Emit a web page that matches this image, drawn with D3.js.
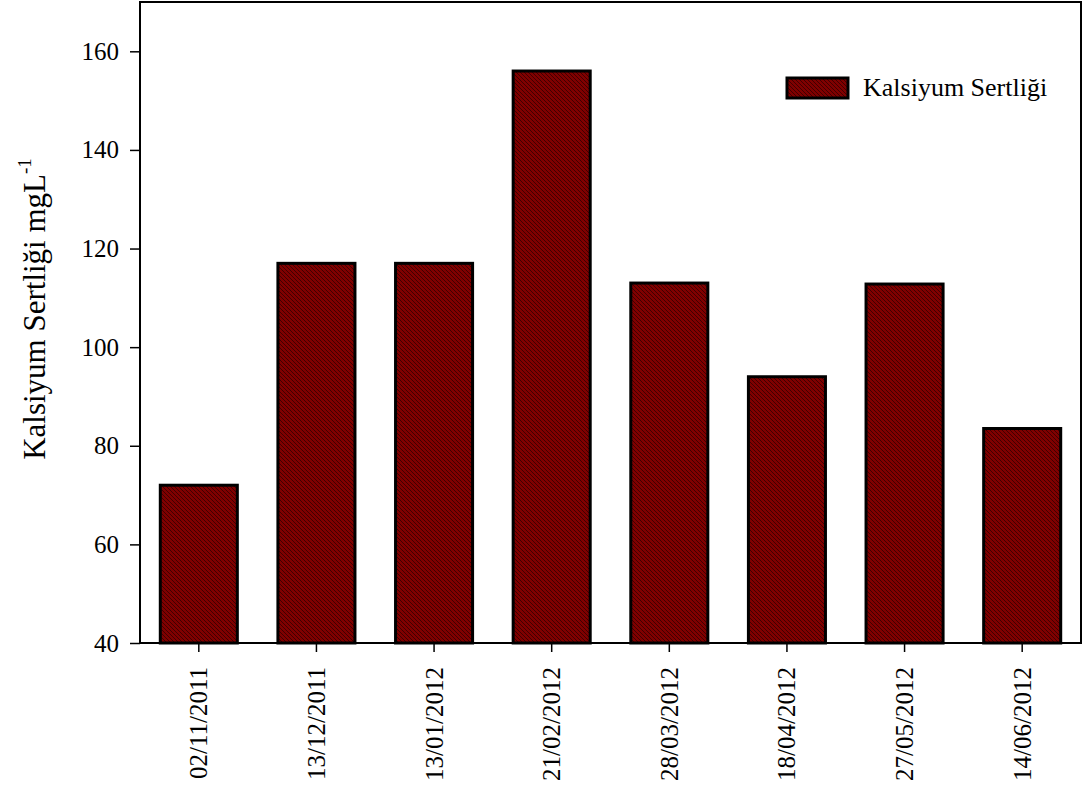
<!DOCTYPE html>
<html>
<head>
<meta charset="utf-8">
<script src="https://cdn.jsdelivr.net/npm/d3@7"></script>
<style>
  html, body { margin: 0; padding: 0; background: #fff; }
  svg { display: block; }
  text { font-family: "Liberation Serif", "Times New Roman", serif; fill: #000; }
</style>
</head>
<body>
<script>
const categories = ["02/11/2011", "13/12/2011", "13/01/2012", "21/02/2012", "28/03/2012", "18/04/2012", "27/05/2012", "14/06/2012"];
const values = [72, 117, 117, 156, 113, 94, 112.8, 83.5];
const yTicks = [40, 60, 80, 100, 120, 140, 160];
const seriesName = "Kalsiyum Sertliği";

const W = 1086, H = 789;
const m = { left: 140, right: 5, top: 2, bottom: 146 };

const svg = d3.select("body").append("svg").attr("width", W).attr("height", H);

const defs = svg.append("defs");
const pat = defs.append("pattern")
  .attr("id", "hatch").attr("patternUnits", "userSpaceOnUse")
  .attr("width", 4).attr("height", 4);
pat.append("rect").attr("width", 4).attr("height", 4).attr("fill", "#800000");
pat.append("path")
  .attr("d", "M-1,-1 L5,5 M-1,3 L1,5 M3,-1 L5,1")
  .attr("stroke", "#1a0000").attr("stroke-width", 0.9).attr("stroke-opacity", 0.7);

const x = d3.scaleBand().domain(categories)
  .range([m.left, W - m.right]).paddingInner(0.345).paddingOuter(0.1725);
const y = d3.scaleLinear().domain([40, 170]).range([H - m.bottom, m.top]);

// bars
svg.append("g").selectAll("rect").data(values).join("rect")
  .attr("x", (d, i) => x(categories[i]))
  .attr("y", d => y(d))
  .attr("width", x.bandwidth())
  .attr("height", d => y(40) - y(d))
  .attr("fill", "url(#hatch)")
  .attr("stroke", "#000").attr("stroke-width", 3);

// frame
svg.append("rect")
  .attr("x", m.left).attr("y", m.top)
  .attr("width", W - m.right - m.left).attr("height", H - m.bottom - m.top)
  .attr("fill", "none").attr("stroke", "#000").attr("stroke-width", 2);

// y axis
const yAxis = svg.append("g").attr("transform", `translate(${m.left},0)`)
  .call(d3.axisLeft(y).tickValues(yTicks).tickSize(10).tickPadding(11).tickFormat(d3.format("d")));
yAxis.select(".domain").remove();
yAxis.selectAll(".tick line").attr("stroke", "#000").attr("stroke-width", 1.5);
yAxis.selectAll(".tick text").attr("font-size", 25)
  .style("font-family", '"Liberation Serif", serif').attr("fill", "#000");

// x axis
const xAxis = svg.append("g").attr("transform", `translate(0,${H - m.bottom})`)
  .call(d3.axisBottom(x).tickSize(9).tickPadding(0));
xAxis.select(".domain").remove();
xAxis.selectAll(".tick line").attr("stroke", "#000").attr("stroke-width", 1.5);
xAxis.selectAll(".tick text")
  .attr("font-size", 25)
  .style("font-family", '"Liberation Serif", serif').attr("fill", "#000")
  .attr("text-anchor", "end")
  .attr("dominant-baseline", "central")
  .attr("dy", null)
  .attr("transform", "translate(0,24) rotate(-90)")
  .attr("x", 0).attr("y", 0);

// y label
const yl = svg.append("text")
  .attr("transform", "translate(45,309) rotate(-90)")
  .attr("text-anchor", "middle")
  .attr("font-size", 31);
yl.append("tspan").text("Kalsiyum Sertliği mgL");
yl.append("tspan").attr("font-size", 19).attr("dy", -14).text("-1");

// legend
const lg = svg.append("g");
lg.append("rect").attr("x", 787).attr("y", 78).attr("width", 61).attr("height", 20)
  .attr("fill", "url(#hatch)").attr("stroke", "#000").attr("stroke-width", 3);
lg.append("text").attr("x", 863).attr("y", 96).attr("font-size", 26).text(seriesName);
</script>
</body>
</html>
